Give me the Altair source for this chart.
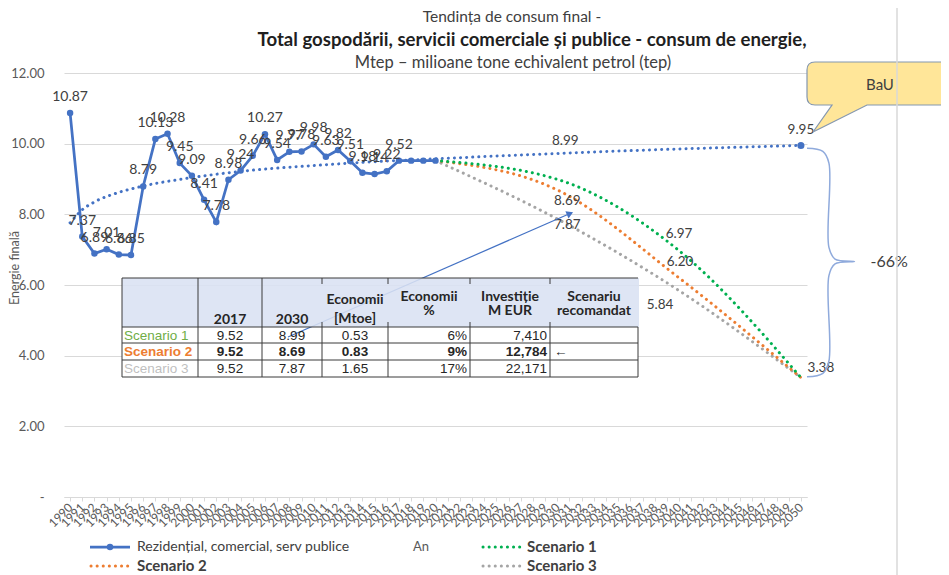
import altair as alt
import pandas as pd

# ---------------- values ----------------
hist_name = "Rezidențial, comercial, serv publice"
hist_years = list(range(1990, 2021))
hist_values = [10.87, 7.37, 6.89, 7.01, 6.86, 6.85, 8.79, 10.13, 10.28, 9.45,
               9.09, 8.41, 7.78, 8.98, 9.24, 9.66, 10.27, 9.54, 9.77, 9.78,
               9.98, 9.63, 9.82, 9.51, 9.18, 9.14, 9.22, 9.52, 9.52, 9.52, 9.52]
last_labelled_year = 2017

bau_name = "BaU"
bau_years = [1990, 1991, 1992, 1994, 1996, 2000, 2005, 2010, 2015, 2020, 2025,
             2030, 2035, 2040, 2045, 2050]
bau_values = [7.76, 8.13, 8.35, 8.62, 8.80, 9.04, 9.25, 9.38, 9.49, 9.57, 9.65,
              9.72, 9.79, 9.85, 9.90, 9.95]

scenario_names = ["Scenario 1", "Scenario 2", "Scenario 3"]
scenario_years = [2020, 2030, 2040, 2050]
scenario1_values = [9.52, 8.99, 6.97, 3.38]
scenario2_values = [9.52, 8.69, 6.20, 3.38]
scenario3_values = [9.52, 7.87, 5.84, 3.38]

title_lines = ["Tendința de consum final -",
               "Total gospodării, servicii comerciale și publice - consum de energie,",
               "Mtep – milioane tone echivalent petrol (tep)"]
y_title = "Energie finală"
x_title = "An"
y_ticks = [0, 2, 4, 6, 8, 10, 12]
x_ticks = list(range(1990, 2051))

table_header_top = ["", "", "", "Economii", "Economii", "Investiție", "Scenariu"]
table_header_bottom = ["", "2017", "2030", "[Mtoe]", "%", "M EUR", "recomandat"]
table_rows = [
    ["Scenario 1", "9.52", "8.99", "0.53", "6%", "7,410", ""],
    ["Scenario 2", "9.52", "8.69", "0.83", "9%", "12,784", "←"],
    ["Scenario 3", "9.52", "7.87", "1.65", "17%", "22,171", ""],
]

# ---------------- styles ----------------
BLUE, ORANGE, GREY, GREEN = "#4472C4", "#ED7D31", "#A5A5A5", "#00B050"
TXT, AXT, GRID = "#404040", "#595959", "#D9D9D9"
FONT, TFONT = "Lato", "Liberation Sans"
W, H = 743, 424
X0, X1, Y0, Y1 = 1989.5, 2050.5, 0, 12
DOT = dict(strokeWidth=3, strokeDash=[0.1, 6], strokeCap="round")

x_scale = alt.Scale(domain=[X0, X1], nice=False, zero=False)
y_scale = alt.Scale(domain=[Y0, Y1], nice=False)
x_axis = alt.Axis(values=x_ticks, format="d", labelAngle=315, labelAlign="right",
                  labelBaseline="middle", labelFontSize=12, labelFont=FONT,
                  labelColor=AXT, labelOverlap=False, labelPadding=4,
                  labelFlush=False, domainColor=GRID, tickColor=GRID, tickSize=4,
                  grid=False, title=None)
y_axis = alt.Axis(values=y_ticks,
                  labelExpr="datum.value == 0 ? '-' : format(datum.value, '.2f')",
                  labelFontSize=13, labelFont=FONT, labelColor=AXT,
                  labelPadding=20, domain=False, ticks=False, grid=True,
                  gridColor=GRID, title=None)


# every layer shares the same scales and the same axis definitions
def X(field="year"):
    return alt.X(f"{field}:Q", scale=x_scale, axis=x_axis, title=None)


def Y(field="value"):
    return alt.Y(f"{field}:Q", scale=y_scale, axis=y_axis, title=None)


# annotation layout is given in plot pixels and mapped into the chart's data space
def px2year(px):
    return X0 + px * (X1 - X0) / W


def py2val(py):
    return Y1 - py * (Y1 - Y0) / H


layers = []

# ---------------- projections (dotted) ----------------
proj_rows = [dict(series=bau_name, year=y, value=v) for y, v in zip(bau_years, bau_values)]
for name, vals in zip(scenario_names[::-1], [scenario3_values, scenario2_values, scenario1_values]):
    proj_rows += [dict(series=name, year=y, value=v) for y, v in zip(scenario_years, vals)]
proj_df = pd.DataFrame(proj_rows)
color_scale = alt.Scale(domain=[bau_name, "Scenario 3", "Scenario 2", "Scenario 1"],
                        range=[BLUE, GREY, ORANGE, GREEN])
layers.append(alt.Chart(proj_df).mark_line(interpolate="monotone", **DOT).encode(
    x=X(), y=Y(),
    color=alt.Color("series:N", scale=color_scale, legend=None)))

# ---------------- historical series ----------------
hist_df = pd.DataFrame({"year": hist_years, "value": hist_values})
layers.append(alt.Chart(hist_df).mark_line(color=BLUE, strokeWidth=2.75).encode(x=X(), y=Y()))
layers.append(alt.Chart(hist_df).mark_point(color=BLUE, filled=True, size=42, opacity=1).encode(x=X(), y=Y()))
lab_df = hist_df[hist_df["year"] <= last_labelled_year].copy()
lab_df["t"] = lab_df["value"].map(lambda v: f"{v:.2f}")
layers.append(alt.Chart(lab_df).mark_text(dy=-16, fontSize=14, font=FONT, color=TXT).encode(
    x=X(), y=Y(), text="t:N"))

# BaU end point + label
bau_end = pd.DataFrame({"year": [bau_years[-1]], "value": [bau_values[-1]],
                        "t": [f"{bau_values[-1]:.2f}"]})
layers.append(alt.Chart(bau_end).mark_point(color=BLUE, filled=True, size=50, opacity=1).encode(x=X(), y=Y()))
layers.append(alt.Chart(bau_end).mark_text(dy=-15, fontSize=13.5, font=FONT, color=TXT).encode(
    x=X(), y=Y(), text="t:N"))

# scenario labels
label_offsets = {("Scenario 1", 2030): (8, -38), ("Scenario 2", 2030): (10, 11),
                 ("Scenario 3", 2030): (10, 6), ("Scenario 1", 2040): (0, -17),
                 ("Scenario 2", 2040): (1, -16), ("Scenario 3", 2040): (-19, 14),
                 ("Scenario 1", 2050): (20, -10)}
scen_vals = dict(zip(scenario_names, [scenario1_values, scenario2_values, scenario3_values]))
for (name, yr), (dx, dy) in label_offsets.items():
    v = scen_vals[name][scenario_years.index(yr)]
    d = pd.DataFrame({"year": [yr], "value": [v], "t": [f"{v:.2f}"]})
    layers.append(alt.Chart(d).mark_text(dx=dx, dy=dy, fontSize=13.5, font=FONT, color=TXT).encode(
        x=X(), y=Y(), text="t:N"))

# ---------------- brace and -66% ----------------
top, bot = bau_values[-1], scenario1_values[-1]
mid = (top + bot) / 2
brace_shape = [(0.5, top - 0.08), (1.8, top - 0.17), (2.3, top - 0.5), (2.3, mid + 0.4),
               (2.8, mid + 0.07), (4.4, mid), (2.8, mid - 0.07), (2.3, mid - 0.4),
               (2.3, bot + 0.47), (1.8, bot + 0.12), (0.5, bot + 0.02)]
brace_df = pd.DataFrame([dict(year=2050 + dx, value=v, o=i) for i, (dx, v) in enumerate(brace_shape)])
layers.append(alt.Chart(brace_df).mark_line(color="#8FAADC", strokeWidth=1.5,
                                             interpolate="catmull-rom").encode(
    x=X(), y=Y(), order="o:Q"))
pct_df = pd.DataFrame({"year": [2050 + 4.4], "value": [mid],
                       "t": [f"{round((bot / top - 1) * 100)}%"]})
layers.append(alt.Chart(pct_df).mark_text(align="left", dx=16, fontSize=16, font=FONT, color=TXT).encode(
    x=X(), y=Y(), text="t:N"))

# ---------------- table ----------------
col_edges = [58, 134, 198, 258, 324, 406, 486, 574]
row_edges = [205, 254, 270, 287, 304]


def box_df(x1, x2, y1, y2):
    return pd.DataFrame({"year": [px2year(x1)], "year2": [px2year(x2)],
                         "value": [py2val(y1)], "value2": [py2val(y2)]})


def rect_layer(d, **kw):
    return alt.Chart(d).mark_rect(**kw).encode(x=X(), x2="year2:Q", y=Y(), y2="value2:Q")


def rule_layer(d, **kw):
    return alt.Chart(d).mark_rule(**kw).encode(x=X(), x2="year2:Q", y=Y(), y2="value2:Q")


layers.append(rect_layer(box_df(col_edges[0], col_edges[-1], row_edges[1], row_edges[-1]), color="white"))
# arrow line (partly under the header)
arrow_from, arrow_to = (224, 264), (506, 140.5)
layers.append(rule_layer(box_df(arrow_from[0], arrow_to[0], arrow_from[1], arrow_to[1]),
                         color=BLUE, strokeWidth=1.2))
layers.append(rect_layer(box_df(col_edges[0], col_edges[-1] + 1, row_edges[0], row_edges[1]),
                         color="#D9E1F2", opacity=0.88))
segs = []
for yv in row_edges:
    segs.append((col_edges[0], col_edges[-1], yv, yv))
for i, xv in enumerate(col_edges):
    if i <= 2:
        segs.append((xv, xv, row_edges[0], row_edges[-1]))
    else:
        segs.append((xv, xv, row_edges[1], row_edges[-1]))
        if i < len(col_edges) - 1:
            segs.append((xv, xv, row_edges[0], row_edges[0] + 6))
            segs.append((xv, xv, row_edges[1] - 5, row_edges[1]))
seg_df = pd.concat([box_df(*s) for s in segs], ignore_index=True)
layers.append(rule_layer(seg_df, color="#3A3A3A", strokeWidth=1))

name_colors = ["#70AD47", ORANGE, "#BFBFBF"]
cells = []
for r, row in enumerate(table_rows):
    yc = (row_edges[r + 1] + row_edges[r + 2]) / 2 + 0.5
    for c, t in enumerate(row):
        if not t:
            continue
        if c == 0:
            al, px = "left", col_edges[0] + 2
        elif c in (4, 5):
            al, px = "right", col_edges[c + 1] - 3
        elif c == 6:
            al, px = "left", col_edges[6] + 4
        else:
            al, px = "center", (col_edges[c] + col_edges[c + 1]) / 2
        cells.append(dict(year=px2year(px), value=py2val(yc), t=t, al=al, b=(r == 1),
                          col=name_colors[r] if c == 0 else "#262626"))
cell_df = pd.DataFrame(cells)
for (al, b, col), g in cell_df.groupby(["al", "b", "col"]):
    layers.append(alt.Chart(g).mark_text(align=al, baseline="middle", fontSize=13.5, font=TFONT,
                                         color=col, fontWeight="bold" if b else "normal").encode(
        x=X(), y=Y(), text="t:N"))

head_top_y = {3: 227, 4: 224, 5: 224, 6: 224}
head_bot_y = {1: 247, 2: 247, 3: 246, 4: 238, 5: 238, 6: 238}
heads = []
for c in range(1, 7):
    cx = (col_edges[c] + col_edges[c + 1]) / 2
    if table_header_top[c]:
        heads.append(dict(year=px2year(cx), value=py2val(head_top_y[c]), t=table_header_top[c]))
    if table_header_bottom[c]:
        heads.append(dict(year=px2year(cx), value=py2val(head_bot_y[c]), t=table_header_bottom[c]))
layers.append(alt.Chart(pd.DataFrame(heads)).mark_text(fontSize=14, font=FONT, fontWeight="bold",
                                                        color="#262626").encode(x=X(), y=Y(), text="t:N"))
# arrow head
head_df = pd.DataFrame({"year": [px2year(arrow_to[0])], "value": [py2val(arrow_to[1])]})
layers.append(alt.Chart(head_df).mark_point(shape="triangle-up", angle=66, filled=True, size=60,
                                            color=BLUE, opacity=1).encode(x=X(), y=Y()))

# ---------------- titles, axis titles ----------------
title_pos = [(448, -56), (468, -33), (449, -10)]
title_styles = [("normal", TXT, 15.5), ("bold", "#1F1F1F", 18.6), ("normal", TXT, 16.5)]
for t, (px, py), (w, c, fs) in zip(title_lines, title_pos, title_styles):
    d = pd.DataFrame({"year": [px2year(px)], "value": [py2val(py)], "t": [t]})
    layers.append(alt.Chart(d).mark_text(fontSize=fs, font=FONT, fontWeight=w, color=c).encode(
        x=X(), y=Y(), text="t:N"))


def text_at(t, px, py, **kw):
    d = pd.DataFrame({"year": [px2year(px)], "value": [py2val(py)], "t": [t]})
    return alt.Chart(d).mark_text(**kw).encode(x=X(), y=Y(), text="t:N")


layers.append(text_at(y_title, -49, 195, angle=270, fontSize=12.5, font=FONT, color=AXT))
layers.append(text_at(x_title, 357, 474, fontSize=13, font=FONT, color=AXT))

# ---------------- callout ----------------
callout_path = ("M -0.8125 -0.4125 L 1 -0.4125 L 1 0.125 L -0.1625 0.125 L -0.8375 0.4625 "
                "L -0.6 0.125 L -0.8125 0.125 Q -0.9125 0.125 -0.9125 0.025 L -0.9125 -0.3125 "
                "Q -0.9125 -0.4125 -0.8125 -0.4125 Z")
call_df = pd.DataFrame({"year": [px2year(816)], "value": [py2val(22)]})
layers.append(alt.Chart(call_df).mark_point(shape=callout_path, size=25600, filled=True, fill="#FFE699",
                                            stroke="#8497B0", strokeWidth=1.2, opacity=1).encode(
    x=X(), y=Y()))
layers.append(text_at(bau_name, 816, 12, fontSize=15, font=FONT, color=TXT))

# slide border line
layers.append(rule_layer(box_df(833, 833, -73, 510), color=GRID, strokeWidth=1.5))

# ---------------- legend ----------------
leg_rows = [474, 493]
leg_cols = [(26, 66, 73), (418, 456, 463)]
leg_items = [(hist_name, BLUE, 0, 0, False, True), ("Scenario 1", GREEN, 0, 1, True, False),
             ("Scenario 2", ORANGE, 1, 0, True, False), ("Scenario 3", GREY, 1, 1, True, False)]
for name, colr, r, c, bold, solid in leg_items:
    x1, x2, xt = leg_cols[c]
    yv = leg_rows[r]
    if solid:
        layers.append(rule_layer(box_df(x1, x2, yv, yv), color=colr, strokeWidth=2.75))
        pd_ = pd.DataFrame({"year": [px2year((x1 + x2) / 2)], "value": [py2val(yv)]})
        layers.append(alt.Chart(pd_).mark_point(color=colr, filled=True, size=42, opacity=1).encode(
            x=X(), y=Y()))
    else:
        layers.append(rule_layer(box_df(x1 + 1, x2, yv, yv), color=colr, **DOT))
    layers.append(text_at(name, xt, yv, align="left", fontSize=15 if bold else 14, font=FONT,
                          color=TXT, fontWeight="bold" if bold else "normal"))

chart = alt.layer(*layers).properties(
    width=W, height=H,
    autosize=alt.AutoSizeParams(type="none"),
    padding={"left": 56, "top": 65, "right": 134, "bottom": 78},
    background="white",
).configure_view(strokeWidth=0)

chart.save("out.html", embed_options={"renderer": "svg", "actions": False})
